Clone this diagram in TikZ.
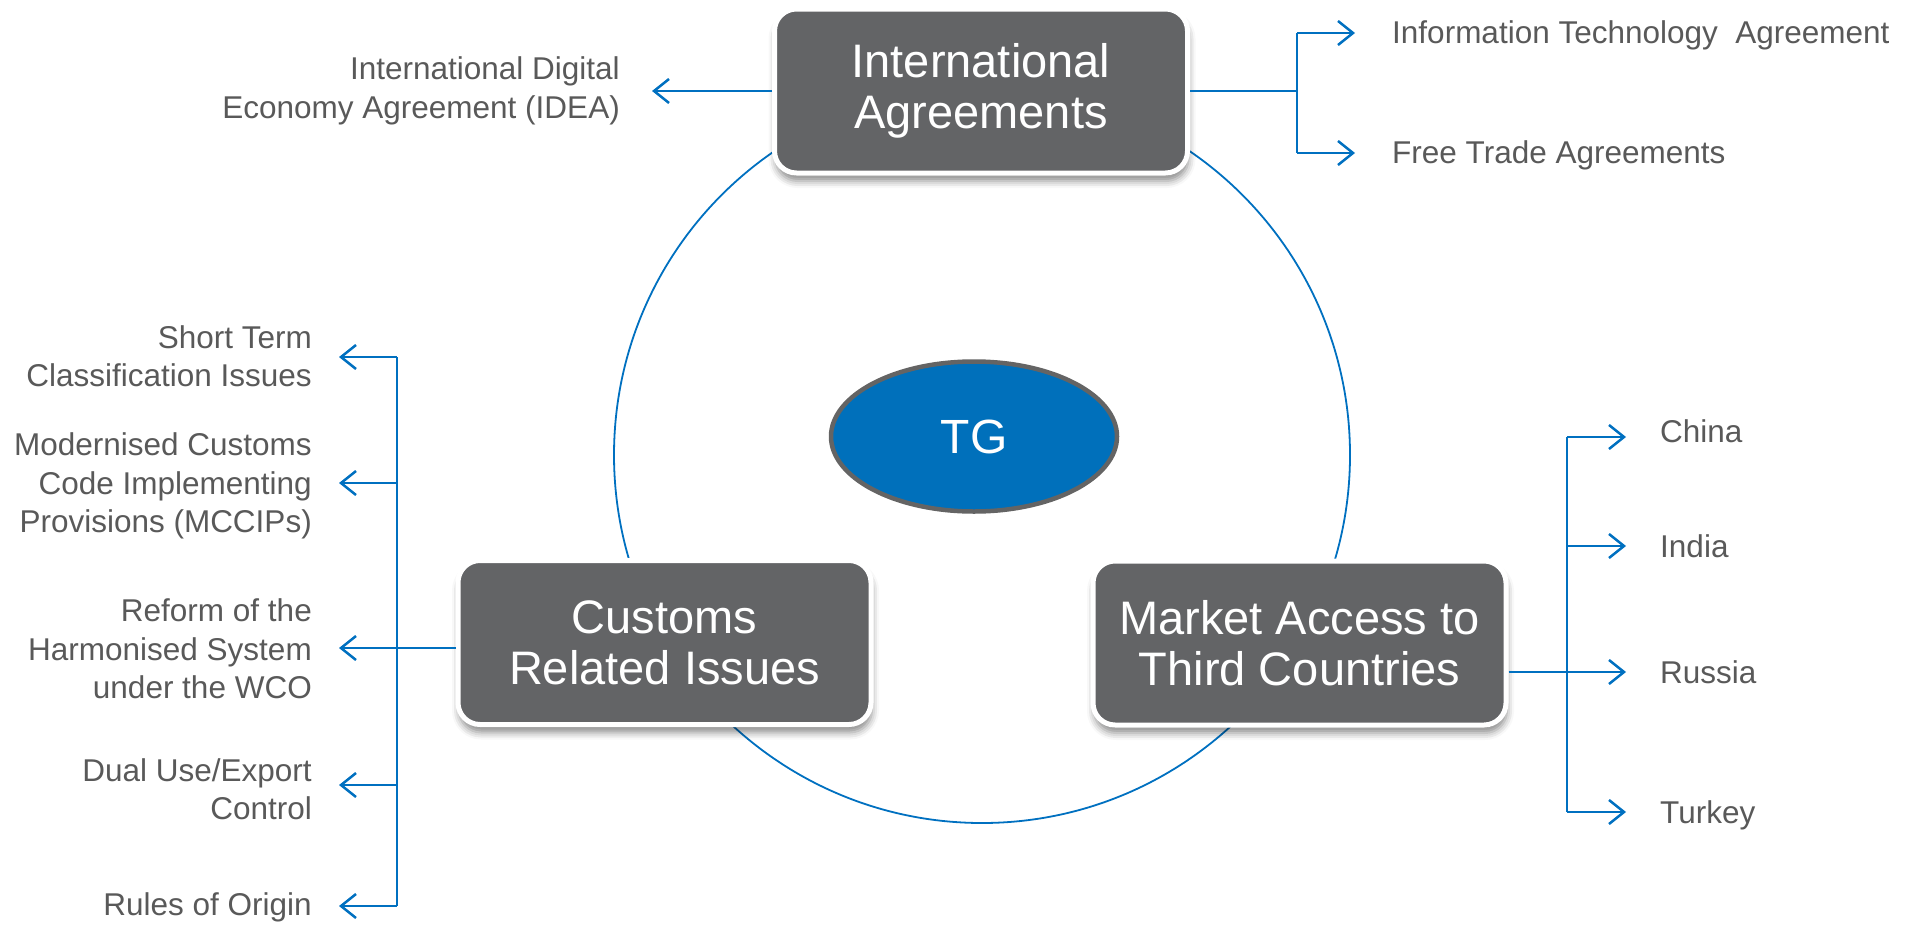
\documentclass[tikz,border=0pt]{standalone}
\usepackage{fontspec}
\setmainfont{Liberation Sans}
\usetikzlibrary{arrows.meta,shapes.geometric,shadows.blur}
\definecolor{textgrey}{RGB}{89,89,89}
\definecolor{boxgrey}{RGB}{99,100,102}
\definecolor{tgblue}{RGB}{0,112,187}
\definecolor{linkblue}{RGB}{0,112,192}
\definecolor{rimgrey}{RGB}{100,100,100}
\begin{document}
\begin{tikzpicture}[x=1pt,y=-1pt,
  bigbox/.style={draw=white, line width=5pt, fill=boxgrey, rounded corners=22pt,
    minimum width=413pt, minimum height=164pt, text=white, align=center,
    font=\fontsize{47}{51}\selectfont,
    blur shadow={shadow xshift=1pt, shadow yshift=-8pt, shadow blur radius=7pt, shadow opacity=45}},
  lbl/.style={font=\fontsize{31.5}{38.5}\selectfont, text=textgrey, inner sep=0pt},
  conn/.style={draw=linkblue, line width=2.5pt},
  arr/.style={conn, -{Straight Barb[length=15pt, width=24pt]}},
  ring/.style={draw=linkblue, line width=1.8pt}
]
\useasboundingbox (0,0) rectangle (1918,926);

% central ring
\coordinate (ringc) at (982,455);
\draw[ring] (ringc) circle[radius=368];

% centre ellipse
\node[ellipse, draw=rimgrey, line width=4.5pt, fill=tgblue, minimum width=286pt,
  minimum height=150pt, text=white, font=\fontsize{48}{52}\selectfont] (tg) at (974,436.5) {\raisebox{-3pt}{TG}};

% main boxes
\node[bigbox] (top) at (981,91) {International\\Agreements};
\node[bigbox] (cust) at (664.5,642.5) {Customs\\Related Issues};
\node[bigbox] (mkt) at (1299.5,643) {Market Access to\\Third Countries};

% ---- top box branches
\coordinate (ideah) at (652,92);
\node[lbl, anchor=east, align=right] (idea) at (620,91) {International Digital\\Economy Agreement (IDEA)};
\draw[arr] (top.west) -- (top.west -| ideah);

\coordinate (tt1) at (1297,33);
\coordinate (tt2) at (1297,153);
\coordinate (th1) at (1355,33);
\coordinate (th2) at (1355,153);
\draw[conn] (top.east) -- (top.east -| tt1);
\draw[conn] (tt1) -- (tt2);
\draw[arr] (tt1) -- (th1);
\draw[arr] (tt2) -- (th2);
\node[lbl, anchor=west] (ita) at (1392,35) {Information Technology\ \ Agreement};
\node[lbl, anchor=west] (fta) at (1392,155) {Free Trade Agreements};

% ---- customs branches
\coordinate (ct1) at (397,357);
\coordinate (ct2) at (397,483);
\coordinate (ct3) at (397,648);
\coordinate (ct4) at (397,785);
\coordinate (ct5) at (397,906);
\coordinate (ch1) at (339,357);
\coordinate (ch2) at (339,483);
\coordinate (ch3) at (339,648);
\coordinate (ch4) at (339,785);
\coordinate (ch5) at (339,906);
\draw[conn] (ct1) -- (ct5);
\draw[conn] (cust.west |- ct3) -- (ct3);
\draw[arr] (ct1) -- (ch1);
\draw[arr] (ct2) -- (ch2);
\draw[arr] (ct3) -- (ch3);
\draw[arr] (ct4) -- (ch4);
\draw[arr] (ct5) -- (ch5);
\node[lbl, anchor=east, align=right] (stc) at (312,356) {Short Term\\Classification Issues};
\node[lbl, anchor=east, align=right] (mcc) at (312,486) {Modernised Customs\\Code Implementing\\Provisions (MCCIPs)};
\node[lbl, anchor=east, align=right] (hs) at (312,649) {Reform of the\\Harmonised System\\under the WCO};
\node[lbl, anchor=east, align=right] (due) at (312,789) {Dual Use/Export\\Control};
\node[lbl, anchor=east, align=right] (roo) at (312,907) {Rules of Origin};

% ---- market access branches
\coordinate (mt1) at (1567,437);
\coordinate (mt2) at (1567,546);
\coordinate (mt3) at (1567,672);
\coordinate (mt4) at (1567,812);
\coordinate (mh1) at (1626,437);
\coordinate (mh2) at (1626,546);
\coordinate (mh3) at (1626,672);
\coordinate (mh4) at (1626,812);
\draw[conn] (mt1) -- (mt4);
\draw[conn] (mkt.east |- mt3) -- (mt3);
\draw[arr] (mt1) -- (mh1);
\draw[arr] (mt2) -- (mh2);
\draw[arr] (mt3) -- (mh3);
\draw[arr] (mt4) -- (mh4);
\node[lbl, anchor=west] (china) at (1660,431) {China};
\node[lbl, anchor=west] (india) at (1660,546) {India};
\node[lbl, anchor=west] (russia) at (1660,672) {Russia};
\node[lbl, anchor=west] (turkey) at (1660,815) {Turkey};
\end{tikzpicture}
\end{document}
